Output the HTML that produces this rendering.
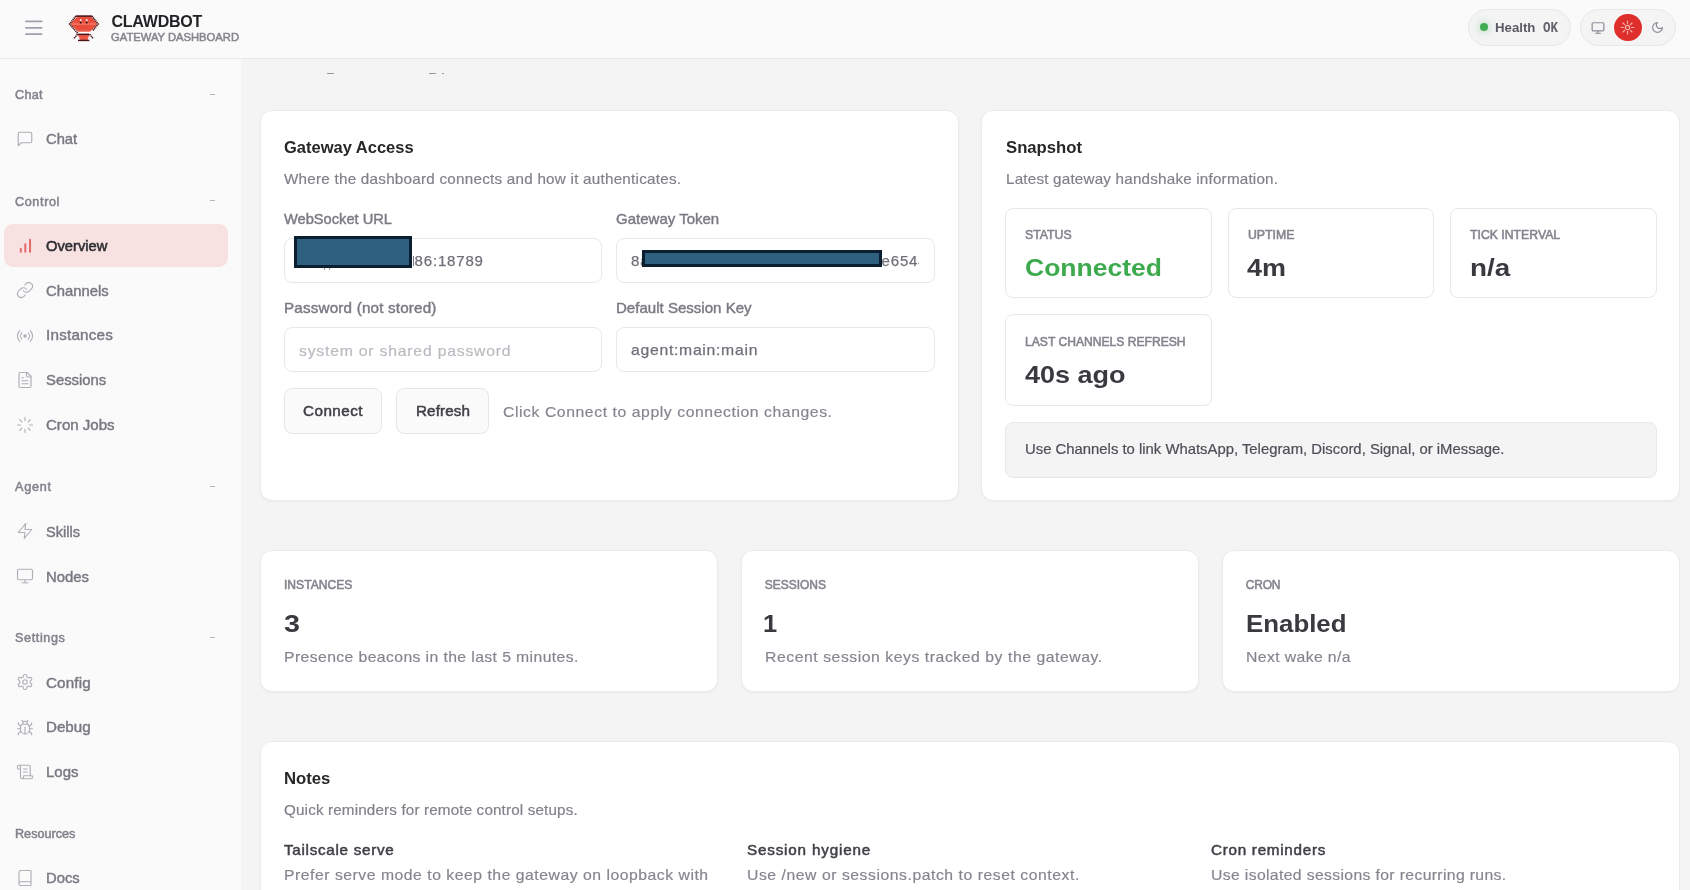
<!DOCTYPE html>
<html lang="en">
<head>
<meta charset="utf-8">
<title>Clawdbot Gateway Dashboard</title>
<style>
*{box-sizing:border-box;margin:0;padding:0}
html,body{width:1690px;height:890px;overflow:hidden;background:#f4f4f5;font-family:"Liberation Sans",sans-serif;}
#app{will-change:transform;position:relative;width:1690px;height:890px;overflow:hidden;background:#f4f4f5}
.abs{position:absolute}
.t{position:absolute;white-space:pre;line-height:1;transform-origin:0 0;}
#header{position:absolute;left:0;top:0;width:1690px;height:59px;background:#fafafa;border-bottom:1px solid #e9e9ec}
#sidebar{position:absolute;left:0;top:59px;width:241px;height:831px;background:#fafafa}
.card{position:absolute;background:#fff;border:1px solid #ebebee;border-radius:12px;box-shadow:0 1px 2px rgba(0,0,0,.04)}
.box{position:absolute;background:#fff;border:1px solid #e8e8eb;border-radius:8px}
.input{position:absolute;background:#fff;border:1px solid #e8e8eb;border-radius:8px;height:45px;width:318px}
.btn{position:absolute;background:#fafafa;border:1px solid #e6e6ea;border-radius:8px;height:46px}
.pill{position:absolute;top:9px;height:37px;border-radius:19px;background:#f4f4f5;border:1px solid #e7e7ea}
.redact{position:absolute;background:#2f6080;border:3.6px solid #0b1f30}
.ico{position:absolute;width:18px;height:18px;fill:none;stroke:#afafb8;stroke-width:1.55;stroke-linecap:round;stroke-linejoin:round}
.dash{position:absolute;left:209.5px;width:5.5px;height:1px;background:#b4b4bc}
</style>
</head>
<body>
<div id="app">

<!-- main background bits -->
<div id="sidebar"></div>
<div id="header"></div>

<!-- header: hamburger -->
<svg class="abs" style="left:24.5px;top:19px;width:18px;height:18px" viewBox="0 0 18 18" fill="none" stroke="#a0a0aa" stroke-width="1.8" stroke-linecap="round"><line x1="1" y1="2.4" x2="16.6" y2="2.4"/><line x1="1" y1="8.8" x2="16.6" y2="8.8"/><line x1="1" y1="15.2" x2="16.6" y2="15.2"/></svg>

<!-- logo -->
<svg class="abs" style="left:68px;top:13px;width:32px;height:30px" viewBox="0 0 32 30">
  <polygon points="9.6,3.6 22.9,3.6 29.6,11 22.2,18.5 10,18.5 2.2,11" fill="#ea4c3c"/>
  <polygon points="2.9,10.3 29,10.3 29.6,11 29,11.7 2.9,11.7 2.2,11" fill="#f37a67"/>
  <polygon points="3.6,9.6 28.3,9.6 29,10.3 2.9,10.3" fill="#ee5f4e"/>
  <polygon points="11.2,17.3 21,17.3 22.2,18.5 10,18.5" fill="#ee6656"/>
  <path d="M7.9,3.1 L1.6,11.05 L9.6,20.2 M23.9,3.1 L30.2,11.05 L24.5,17.8" fill="none" stroke="#4d1b1f" stroke-width="1.7" stroke-dasharray="1.3 0.6"/>
  <rect x="7.9" y="2.3" width="16" height="1.6" fill="#4a1519"/>
  <polygon points="9.9,21.6 21.4,21.6 19.6,27 12.2,27" fill="#ec5748"/>
  <rect x="9.5" y="20.6" width="11.9" height="1.5" fill="#4a1519"/>
  <rect x="10" y="26.7" width="11.4" height="1.45" fill="#4a1519"/>
  <path d="M9.5,21.3 L5.7,25.8 M21.7,21.3 L25.3,25.8" fill="none" stroke="#4d1b1f" stroke-width="1.6" stroke-dasharray="1.3 0.6"/>
  <rect x="11.9" y="6.2" width="1.6" height="2.3" fill="#fdeeee"/><rect x="11.8" y="8.5" width="1.7" height="2" fill="#3a1014"/>
  <rect x="17.9" y="6.2" width="1.6" height="2.3" fill="#fdeeee"/><rect x="17.8" y="8.5" width="1.7" height="2" fill="#3a1014"/>
</svg>

<!-- health pill -->
<div class="pill" style="left:1468px;width:103px"></div>
<div class="abs" style="left:1480px;top:23.3px;width:8px;height:8px;border-radius:50%;background:#41ad53;box-shadow:0 0 7px 1.5px rgba(63,174,82,.28)"></div>
<!-- theme pill -->
<div class="pill" style="left:1580px;width:96px"></div>
<div class="abs" style="left:1614.1px;top:13.6px;width:27.6px;height:27.6px;border-radius:50%;background:#df2f2c"></div>
<svg class="ico" style="left:1591px;top:20.9px;width:14px;height:14px;stroke:#8c8c96;stroke-width:2.1" viewBox="0 0 24 24"><rect width="20" height="14" x="2" y="3" rx="2"/><line x1="8" x2="16" y1="21" y2="21"/><line x1="12" x2="12" y1="17" y2="21"/></svg>
<svg class="ico" style="left:1620.4px;top:19.9px;width:15px;height:15px;stroke:#f7b4b2;stroke-width:1.8" viewBox="0 0 24 24"><circle cx="12" cy="12" r="3.4"/><path d="M12 1.8v3.8"/><path d="M12 18.4v3.8"/><path d="m4.8 4.8 2.6 2.6"/><path d="m16.6 16.6 2.6 2.6"/><path d="M1.800 12h3.800"/><path d="M18.400 12h3.800"/><path d="m7.400 16.600-2.600 2.600"/><path d="m19.200 4.800-2.600 2.600"/></svg>
<svg class="ico" style="left:1650.8px;top:21px;width:13px;height:13px;stroke:#8c8c96;stroke-width:2.1" viewBox="0 0 24 24"><path d="M12 3a6 6 0 0 0 9 9 9 9 0 1 1-9-9Z"/></svg>

<!-- sidebar -->
<div class="dash" style="top:94px"></div>
<div class="dash" style="top:200px"></div>
<div class="dash" style="top:486px"></div>
<div class="dash" style="top:637px"></div>
<div class="abs" style="left:4px;top:224px;width:224px;height:43px;border-radius:9px;background:#f7e1e1"></div>

<svg class="ico" style="left:16.3px;top:130.1px" viewBox="0 0 24 24"><path d="M21 15a2 2 0 0 1-2 2H7l-4 4V5a2 2 0 0 1 2-2h14a2 2 0 0 1 2 2z"/></svg>
<svg class="abs" style="left:16px;top:236px;width:20px;height:20px" viewBox="0 0 20 20" fill="none" stroke="#e56b69" stroke-width="2" stroke-linecap="round"><line x1="4.8" y1="12.8" x2="4.8" y2="15.8"/><line x1="9.3" y1="8.2" x2="9.3" y2="15.8"/><line x1="14.05" y1="3.7" x2="14.05" y2="15.8"/></svg>
<svg class="ico" style="left:16.3px;top:281.3px" viewBox="0 0 24 24"><path d="M10 13a5 5 0 0 0 7.54.54l3-3a5 5 0 0 0-7.07-7.07l-1.72 1.71"/><path d="M14 11a5 5 0 0 0-7.54-.54l-3 3a5 5 0 0 0 7.07 7.07l1.71-1.71"/></svg>
<svg class="ico" style="left:16.3px;top:327.2px" viewBox="0 0 24 24"><path d="M4.9 19.1C1 15.2 1 8.8 4.9 4.9"/><path d="M7.8 16.2c-2.3-2.3-2.3-6.1 0-8.5"/><circle cx="12" cy="12" r="1.6" fill="#afafb8"/><path d="M16.2 7.8c2.3 2.3 2.3 6.1 0 8.5"/><path d="M19.1 4.9C23 8.8 23 15.1 19.1 19"/></svg>
<svg class="ico" style="left:16.3px;top:370.6px" viewBox="0 0 24 24"><path d="M15 2H6a2 2 0 0 0-2 2v16a2 2 0 0 0 2 2h12a2 2 0 0 0 2-2V7Z"/><path d="M14 2v4a2 2 0 0 0 2 2h4"/><path d="M10 9H8"/><path d="M16 13H8"/><path d="M16 17H8"/></svg>
<svg class="ico" style="left:16.3px;top:415.6px" viewBox="0 0 24 24"><path d="M12 2v4"/><path d="m16.2 7.8 2.9-2.9"/><path d="M18 12h4"/><path d="m16.2 16.2 2.9 2.9"/><path d="M12 18v4"/><path d="m4.9 19.1 2.9-2.9"/><path d="M2 12h4"/><path d="m4.9 4.9 2.9 2.9"/></svg>
<svg class="ico" style="left:16.3px;top:522.3px" viewBox="0 0 24 24"><polygon points="13 2 3 14 12 14 11 22 21 10 12 10 13 2"/></svg>
<svg class="ico" style="left:16.3px;top:567.0px" viewBox="0 0 24 24"><rect width="20" height="14" x="2" y="3" rx="2"/><line x1="8" x2="16" y1="21" y2="21"/><line x1="12" x2="12" y1="17" y2="21"/></svg>
<svg class="ico" style="left:16.3px;top:673.2px" viewBox="0 0 24 24"><path d="M12.22 2h-.44a2 2 0 0 0-2 2v.18a2 2 0 0 1-1 1.73l-.43.25a2 2 0 0 1-2 0l-.15-.08a2 2 0 0 0-2.73.73l-.22.38a2 2 0 0 0 .73 2.73l.15.1a2 2 0 0 1 1 1.72v.51a2 2 0 0 1-1 1.74l-.15.09a2 2 0 0 0-.73 2.73l.22.38a2 2 0 0 0 2.73.73l.15-.08a2 2 0 0 1 2 0l.43.25a2 2 0 0 1 1 1.73V20a2 2 0 0 0 2 2h.44a2 2 0 0 0 2-2v-.18a2 2 0 0 1 1-1.73l.43-.25a2 2 0 0 1 2 0l.15.08a2 2 0 0 0 2.73-.73l.22-.39a2 2 0 0 0-.73-2.73l-.15-.08a2 2 0 0 1-1-1.74v-.5a2 2 0 0 1 1-1.74l.15-.09a2 2 0 0 0 .73-2.73l-.22-.38a2 2 0 0 0-2.73-.73l-.15.08a2 2 0 0 1-2 0l-.43-.25a2 2 0 0 1-1-1.73V4a2 2 0 0 0-2-2z"/><circle cx="12" cy="12" r="3"/></svg>
<svg class="ico" style="left:16.3px;top:719.4px" viewBox="0 0 24 24"><path d="m8 2 1.88 1.88"/><path d="M14.12 3.88 16 2"/><path d="M9 7.13v-1a3.003 3.003 0 1 1 6 0v1"/><path d="M12 20c-3.300 0-6-2.700-6-6v-3a4 4 0 0 1 4-4h4a4 4 0 0 1 4 4v3c0 3.300-2.700 6-6 6"/><path d="M12 20v-9"/><path d="M6.530 9C4.600 8.800 3 7.100 3 5"/><path d="M6 13H2"/><path d="M3 21c0-2.100 1.700-3.900 3.800-4"/><path d="M20.970 5c0 2.100-1.600 3.800-3.500 4"/><path d="M22 13h-4"/><path d="M17.200 17c2.100.1 3.800 1.900 3.800 4"/></svg>
<svg class="ico" style="left:16.3px;top:763.2px" viewBox="0 0 24 24"><path d="M15 12h-5"/><path d="M15 8h-5"/><path d="M19 17V5a2 2 0 0 0-2-2H4"/><path d="M8 21h12a2 2 0 0 0 2-2v-1a1 1 0 0 0-1-1H11a1 1 0 0 0-1 1v1a2 2 0 1 1-4 0V5a2 2 0 1 0-4 0v2a1 1 0 0 0 1 1h3"/></svg>
<svg class="ico" style="left:16.3px;top:869.3px" viewBox="0 0 24 24"><path d="M4 19.500v-15A2.500 2.500 0 0 1 6.500 2H19a1 1 0 0 1 1 1v18a1 1 0 0 1-1 1H6.500a1 1 0 0 1 0-5H20"/></svg>

<!-- clipped subtitle remnants at top of main -->
<div class="abs" style="left:327px;top:73px;width:6.6px;height:1.3px;background:#9696a0;border-radius:1px"></div>
<div class="abs" style="left:429.4px;top:73px;width:6.4px;height:1.3px;background:#9696a0;border-radius:1px"></div>
<div class="abs" style="left:441.8px;top:72.8px;width:2px;height:1.6px;background:#a0a0a9"></div>

<!-- cards -->
<div class="card" style="left:260px;top:110px;width:699px;height:391px"></div>
<div class="card" style="left:981px;top:110px;width:699px;height:391px"></div>
<div class="card" style="left:260px;top:550px;width:458px;height:142px"></div>
<div class="card" style="left:741px;top:550px;width:458px;height:142px"></div>
<div class="card" style="left:1222px;top:550px;width:458px;height:142px"></div>
<div class="card" style="left:260px;top:741px;width:1420px;height:200px"></div>

<!-- inputs -->
<div class="input" style="left:284px;top:238px"></div>
<div class="input" style="left:616px;top:238px;width:319px"></div>
<div class="input" style="left:284px;top:327px"></div>
<div class="input" style="left:616px;top:327px;width:319px"></div>
<!-- input values (partially redacted) -->
<div class="t" style="left:299px;top:253px;font-size:15px;color:#6f6f79;-webkit-text-stroke:0.25px #6f6f79;letter-spacing:.8px">ws://</div>
<div class="abs" style="left:324.2px;top:267.6px;width:1.3px;height:2.2px;background:#8a8a93;transform:skewX(-20deg)"></div>
<div class="abs" style="left:329.4px;top:267.6px;width:1.3px;height:2.2px;background:#8a8a93;transform:skewX(-20deg)"></div>
<div class="abs" style="left:412.5px;top:255.6px;width:1.5px;height:10.6px;background:#77777f"></div>
<div class="t" style="left:414.6px;top:253px;font-size:15px;color:#6f6f79;-webkit-text-stroke:0.25px #6f6f79;letter-spacing:.82px">86:18789</div>
<div class="abs" style="left:631px;top:245px;width:288.4px;height:30px;overflow:hidden"><div class="t" style="left:0;top:8px;font-size:15px;color:#6f6f79;-webkit-text-stroke:0.25px #6f6f79;letter-spacing:.8px">8a</div><div class="t" style="left:250.6px;top:8px;font-size:15px;color:#6f6f79;-webkit-text-stroke:0.25px #6f6f79;letter-spacing:.8px">e6544</div></div>
<div class="redact" style="left:294.2px;top:236.1px;width:117.7px;height:31.7px"></div>
<div class="redact" style="left:642px;top:250.1px;width:240px;height:16.6px"></div>

<!-- buttons -->
<div class="btn" style="left:284px;top:388px;width:98px"></div>
<div class="btn" style="left:396px;top:388px;width:93px"></div>

<!-- snapshot boxes -->
<div class="box" style="left:1005px;top:208px;width:207px;height:90px"></div>
<div class="box" style="left:1228px;top:208px;width:206px;height:90px"></div>
<div class="box" style="left:1450px;top:208px;width:207px;height:90px"></div>
<div class="box" style="left:1005px;top:314px;width:207px;height:92px"></div>
<div class="box" style="left:1005px;top:422px;width:652px;height:56px;background:#f4f4f5;border-color:#e9e9ec"></div>

<div class="t" style="left:111.4px;top:14px;font-size:16px;font-weight:700;color:#232327;letter-spacing:-0.205px;">CLAWDBOT</div>
<div class="t" style="left:111.4px;top:32px;font-size:11px;color:#85858f;transform:scaleX(1.0198);-webkit-text-stroke:0.5px #85858f;">GATEWAY DASHBOARD</div>
<div class="t" style="left:1494.6px;top:21px;font-size:13px;font-weight:700;color:#5a5a64;transform:scaleX(1.0168);">Health</div>
<div class="t" style="left:1542.8px;top:21px;font-size:15px;font-weight:700;font-family:'Liberation Mono',monospace;color:#62626c;transform:scaleX(0.8326);">OK</div>
<div class="t" style="left:15.2px;top:89px;font-size:12px;color:#82828c;letter-spacing:0.309px;transform:scaleX(1.05);-webkit-text-stroke:0.5px #82828c;">Chat</div>
<div class="t" style="left:15.2px;top:196px;font-size:12px;color:#82828c;letter-spacing:0.6px;transform:scaleX(1.05);-webkit-text-stroke:0.5px #82828c;">Control</div>
<div class="t" style="left:15.2px;top:481px;font-size:12px;color:#82828c;letter-spacing:0.755px;transform:scaleX(1.05);-webkit-text-stroke:0.5px #82828c;">Agent</div>
<div class="t" style="left:15.2px;top:632px;font-size:12px;color:#82828c;letter-spacing:0.595px;transform:scaleX(1.05);-webkit-text-stroke:0.5px #82828c;">Settings</div>
<div class="t" style="left:15.2px;top:828px;font-size:12px;color:#82828c;letter-spacing:0.021px;transform:scaleX(1.05);-webkit-text-stroke:0.5px #82828c;">Resources</div>
<div class="t" style="left:46.4px;top:132px;font-size:14.5px;color:#787882;transform:scaleX(1.0183);-webkit-text-stroke:0.42px #787882;">Chat</div>
<div class="t" style="left:46.4px;top:284px;font-size:14.5px;color:#787882;transform:scaleX(1.0218);-webkit-text-stroke:0.42px #787882;">Channels</div>
<div class="t" style="left:46.4px;top:328px;font-size:14.5px;color:#787882;letter-spacing:0.205px;transform:scaleX(1.05);-webkit-text-stroke:0.42px #787882;">Instances</div>
<div class="t" style="left:46.4px;top:373px;font-size:14.5px;color:#787882;transform:scaleX(1.023);-webkit-text-stroke:0.42px #787882;">Sessions</div>
<div class="t" style="left:46.4px;top:418px;font-size:14.5px;color:#787882;transform:scaleX(1.0379);-webkit-text-stroke:0.42px #787882;">Cron Jobs</div>
<div class="t" style="left:46.4px;top:525px;font-size:14.5px;color:#787882;transform:scaleX(1.0046);-webkit-text-stroke:0.42px #787882;">Skills</div>
<div class="t" style="left:46.4px;top:570px;font-size:14.5px;color:#787882;transform:scaleX(1.0257);-webkit-text-stroke:0.42px #787882;">Nodes</div>
<div class="t" style="left:46.4px;top:676px;font-size:14.5px;color:#787882;letter-spacing:0.111px;transform:scaleX(1.05);-webkit-text-stroke:0.42px #787882;">Config</div>
<div class="t" style="left:46.4px;top:720px;font-size:14.5px;color:#787882;transform:scaleX(1.0437);-webkit-text-stroke:0.42px #787882;">Debug</div>
<div class="t" style="left:46.4px;top:765px;font-size:14.5px;color:#787882;transform:scaleX(1.0333);-webkit-text-stroke:0.42px #787882;">Logs</div>
<div class="t" style="left:46.4px;top:871px;font-size:14.5px;color:#787882;transform:scaleX(1.0198);-webkit-text-stroke:0.42px #787882;">Docs</div>
<div class="t" style="left:46.4px;top:239px;font-size:14.5px;color:#2e2e34;transform:scaleX(1.0159);-webkit-text-stroke:0.55px #2e2e34;">Overview</div>
<div class="t" style="left:284.0px;top:140px;font-size:16px;font-weight:700;color:#27272a;transform:scaleX(1.0309);">Gateway Access</div>
<div class="t" style="left:284.0px;top:172px;font-size:14.5px;color:#80808a;letter-spacing:0.229px;transform:scaleX(1.05);-webkit-text-stroke:0.18px #80808a;">Where the dashboard connects and how it authenticates.</div>
<div class="t" style="left:284.0px;top:212px;font-size:14.5px;color:#7a7a84;transform:scaleX(1.0101);-webkit-text-stroke:0.42px #7a7a84;">WebSocket URL</div>
<div class="t" style="left:616.4px;top:212px;font-size:14.5px;color:#7a7a84;transform:scaleX(1.0352);-webkit-text-stroke:0.42px #7a7a84;">Gateway Token</div>
<div class="t" style="left:284.0px;top:301px;font-size:14.5px;color:#7a7a84;letter-spacing:0.165px;transform:scaleX(1.05);-webkit-text-stroke:0.42px #7a7a84;">Password (not stored)</div>
<div class="t" style="left:616.4px;top:301px;font-size:14.5px;color:#7a7a84;transform:scaleX(1.0385);-webkit-text-stroke:0.42px #7a7a84;">Default Session Key</div>
<div class="t" style="left:299.0px;top:343px;font-size:15px;color:#b9b9c0;letter-spacing:0.755px;transform:scaleX(1.05);-webkit-text-stroke:0.18px #b9b9c0;">system or shared password</div>
<div class="t" style="left:631.0px;top:342px;font-size:15px;color:#6f6f79;letter-spacing:0.677px;transform:scaleX(1.05);-webkit-text-stroke:0.25px #6f6f79;">agent:main:main</div>
<div class="t" style="left:303.0px;top:404px;font-size:14.5px;color:#3f3f46;letter-spacing:0.458px;transform:scaleX(1.05);-webkit-text-stroke:0.5px #3f3f46;">Connect</div>
<div class="t" style="left:415.6px;top:404px;font-size:14.5px;color:#3f3f46;letter-spacing:0.108px;transform:scaleX(1.05);-webkit-text-stroke:0.5px #3f3f46;">Refresh</div>
<div class="t" style="left:503.0px;top:404px;font-size:15px;color:#85858f;letter-spacing:0.544px;transform:scaleX(1.05);-webkit-text-stroke:0.18px #85858f;">Click Connect to apply connection changes.</div>
<div class="t" style="left:1005.6px;top:140px;font-size:16px;font-weight:700;color:#27272a;transform:scaleX(1.0427);">Snapshot</div>
<div class="t" style="left:1005.6px;top:172px;font-size:14.5px;color:#80808a;letter-spacing:0.187px;transform:scaleX(1.05);-webkit-text-stroke:0.18px #80808a;">Latest gateway handshake information.</div>
<div class="t" style="left:1025.0px;top:229px;font-size:12px;color:#84848e;transform:scaleX(1.0228);-webkit-text-stroke:0.55px #84848e;">STATUS</div>
<div class="t" style="left:1247.6px;top:229px;font-size:12px;color:#84848e;transform:scaleX(1.0233);-webkit-text-stroke:0.55px #84848e;">UPTIME</div>
<div class="t" style="left:1469.8px;top:229px;font-size:12px;color:#84848e;transform:scaleX(1.0221);-webkit-text-stroke:0.55px #84848e;">TICK INTERVAL</div>
<div class="t" style="left:1025.0px;top:336px;font-size:12px;color:#84848e;transform:scaleX(1.0091);-webkit-text-stroke:0.55px #84848e;">LAST CHANNELS REFRESH</div>
<div class="t" style="left:283.6px;top:579px;font-size:12px;color:#84848e;transform:scaleX(1.0089);-webkit-text-stroke:0.55px #84848e;">INSTANCES</div>
<div class="t" style="left:764.8px;top:579px;font-size:12px;color:#84848e;letter-spacing:-0.023px;-webkit-text-stroke:0.55px #84848e;">SESSIONS</div>
<div class="t" style="left:1245.8px;top:579px;font-size:12px;color:#84848e;letter-spacing:-0.215px;-webkit-text-stroke:0.55px #84848e;">CRON</div>
<div class="t" style="left:1025.0px;top:256px;font-size:24.5px;font-weight:700;color:#3daa4d;transform:scaleX(1.0822);">Connected</div>
<div class="t" style="left:1247.0px;top:256px;font-size:24.5px;font-weight:700;color:#39393f;transform:scaleX(1.101);">4m</div>
<div class="t" style="left:1469.8px;top:256px;font-size:24.5px;font-weight:700;color:#39393f;transform:scaleX(1.1354);">n/a</div>
<div class="t" style="left:1025.0px;top:363px;font-size:24.5px;font-weight:700;color:#39393f;transform:scaleX(1.1025);">40s ago</div>
<div class="t" style="left:1025.2px;top:442px;font-size:14.5px;color:#4e4e57;transform:scaleX(1.0246);-webkit-text-stroke:0.2px #4e4e57;">Use Channels to link WhatsApp, Telegram, Discord, Signal, or iMessage.</div>
<div class="t" style="left:283.6px;top:612px;font-size:24.5px;font-weight:700;color:#39393f;transform:scaleX(1.173);">3</div>
<div class="t" style="left:763.1px;top:612px;font-size:24.5px;font-weight:700;color:#39393f;transform:scaleX(1.041);">1</div>
<div class="t" style="left:1245.8px;top:612px;font-size:24.5px;font-weight:700;color:#39393f;transform:scaleX(1.0546);">Enabled</div>
<div class="t" style="left:283.6px;top:649px;font-size:15px;color:#85858f;letter-spacing:0.378px;transform:scaleX(1.05);-webkit-text-stroke:0.18px #85858f;">Presence beacons in the last 5 minutes.</div>
<div class="t" style="left:764.8px;top:649px;font-size:15px;color:#85858f;letter-spacing:0.526px;transform:scaleX(1.05);-webkit-text-stroke:0.18px #85858f;">Recent session keys tracked by the gateway.</div>
<div class="t" style="left:1245.8px;top:649px;font-size:15px;color:#85858f;letter-spacing:0.373px;transform:scaleX(1.05);-webkit-text-stroke:0.18px #85858f;">Next wake n/a</div>
<div class="t" style="left:283.6px;top:771px;font-size:16px;font-weight:700;color:#27272a;transform:scaleX(1.0438);">Notes</div>
<div class="t" style="left:283.6px;top:803px;font-size:14.5px;color:#80808a;letter-spacing:0.139px;transform:scaleX(1.05);-webkit-text-stroke:0.18px #80808a;">Quick reminders for remote control setups.</div>
<div class="t" style="left:283.6px;top:843px;font-size:14.5px;color:#3f3f46;letter-spacing:0.67px;transform:scaleX(1.05);-webkit-text-stroke:0.5px #3f3f46;">Tailscale serve</div>
<div class="t" style="left:747.3px;top:843px;font-size:14.5px;color:#3f3f46;letter-spacing:0.779px;transform:scaleX(1.05);-webkit-text-stroke:0.5px #3f3f46;">Session hygiene</div>
<div class="t" style="left:1211.1px;top:843px;font-size:14.5px;color:#3f3f46;letter-spacing:0.687px;transform:scaleX(1.05);-webkit-text-stroke:0.5px #3f3f46;">Cron reminders</div>
<div class="t" style="left:283.6px;top:867px;font-size:15px;color:#85858f;letter-spacing:0.494px;transform:scaleX(1.05);-webkit-text-stroke:0.18px #85858f;">Prefer serve mode to keep the gateway on loopback with</div>
<div class="t" style="left:747.3px;top:867px;font-size:15px;color:#85858f;letter-spacing:0.515px;transform:scaleX(1.05);-webkit-text-stroke:0.18px #85858f;">Use /new or sessions.patch to reset context.</div>
<div class="t" style="left:1211.1px;top:867px;font-size:15px;color:#85858f;letter-spacing:0.338px;transform:scaleX(1.05);-webkit-text-stroke:0.18px #85858f;">Use isolated sessions for recurring runs.</div>

</div>
</body>
</html>
